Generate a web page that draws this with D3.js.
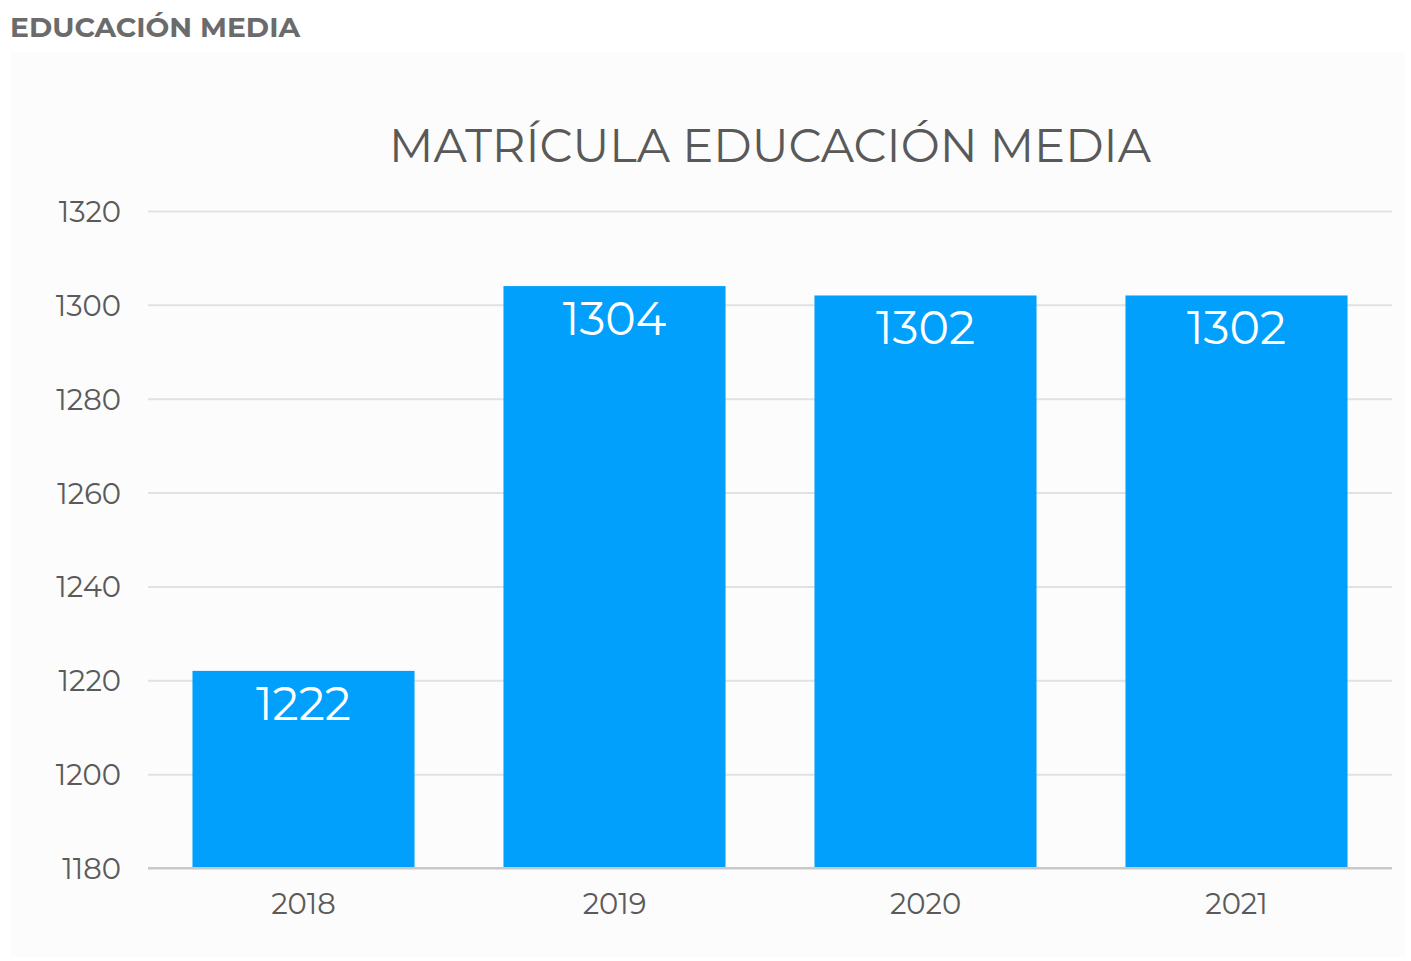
<!DOCTYPE html>
<html>
<head>
<meta charset="utf-8">
<script src="https://cdn.jsdelivr.net/npm/d3@7"></script>
<style>
  body { margin: 0; background: #ffffff; }
  svg { display: block; }
</style>
</head>
<body>
<svg id="chart" width="1411" height="961"></svg>
<script>
// chart data
let years = ["2018", "2019", "2020", "2021"];
let matricula = [1222, 1304, 1302, 1302];
let yTicks = [1180, 1200, 1220, 1240, 1260, 1280, 1300, 1320];

let svg = d3.select("#chart");
let font = "Montserrat, 'Open Sans', 'DejaVu Sans', sans-serif";

// plot extents
let plotL = 148, plotR = 1392, plotT = 211, plotB = 868;

// light panel behind the chart
svg.append("rect")
  .attr("x", 10).attr("y", 52)
  .attr("width", 1395).attr("height", 905)
  .attr("fill", "#fcfcfc");

// page header
svg.append("text")
  .attr("x", 10).attr("y", 37)
  .attr("font-family", font)
  .attr("font-weight", 700)
  .attr("font-size", 28)
  .attr("fill", "#6b6b6b")
  .attr("textLength", 290)
  .attr("lengthAdjust", "spacingAndGlyphs")
  .text("EDUCACIÓN MEDIA");

// chart title
svg.append("text")
  .attr("x", (plotL + plotR) / 2).attr("y", 162)
  .attr("text-anchor", "middle")
  .attr("font-family", font)
  .attr("font-size", 46)
  .attr("fill", "#595959")
  .attr("textLength", 762)
  .attr("lengthAdjust", "spacingAndGlyphs")
  .text("MATRÍCULA EDUCACIÓN MEDIA");

let x = d3.scaleBand()
  .domain(years)
  .range([plotL, plotR])
  .paddingInner(0.286)
  .paddingOuter(0.143);

let y = d3.scaleLinear()
  .domain([1180, 1320])
  .range([plotB, plotT]);

// horizontal gridlines
let yAxis = d3.axisLeft(y)
  .tickValues(yTicks)
  .tickFormat(d3.format("d"))
  .tickSize(-(plotR - plotL))
  .tickPadding(27);

let gy = svg.append("g")
  .attr("transform", "translate(" + plotL + ",0)")
  .call(yAxis);
gy.select(".domain").remove();
gy.selectAll(".tick line")
  .attr("stroke", d => d === 1180 ? "#c8c8c8" : "#e2e2e2")
  .attr("stroke-width", 2);
gy.selectAll(".tick text")
  .attr("font-family", font)
  .attr("font-size", 29)
  .attr("fill", "#5a5a5a")
  .attr("dy", "0.36em");

// x axis labels
let gx = svg.append("g")
  .attr("transform", "translate(0," + plotB + ")")
  .call(d3.axisBottom(x).tickSize(0).tickPadding(25));
gx.select(".domain").remove();
gx.selectAll(".tick text")
  .attr("font-family", font)
  .attr("font-size", 29)
  .attr("fill", "#5a5a5a")
  .attr("dy", "0.71em");

// bars
let data = years.map((yr, i) => ({ year: yr, value: matricula[i] }));

svg.selectAll(".bar")
  .data(data)
  .enter().append("rect")
  .attr("class", "bar")
  .attr("x", d => x(d.year))
  .attr("y", d => y(d.value))
  .attr("width", x.bandwidth())
  .attr("height", d => plotB - y(d.value))
  .attr("fill", "#00a0fc");

// baseline on top of bars
svg.append("line")
  .attr("x1", plotL).attr("x2", plotR)
  .attr("y1", plotB).attr("y2", plotB)
  .attr("stroke", "#c8c8c8")
  .attr("stroke-width", 2);

// value labels inside bars
svg.selectAll(".bar-label")
  .data(data)
  .enter().append("text")
  .attr("class", "bar-label")
  .attr("x", d => x(d.year) + x.bandwidth() / 2)
  .attr("y", d => y(d.value) + 49)
  .attr("text-anchor", "middle")
  .attr("font-family", font)
  .attr("font-size", 46)
  .attr("fill", "#ffffff")
  .text(d => d.value);
</script>
</body>
</html>
